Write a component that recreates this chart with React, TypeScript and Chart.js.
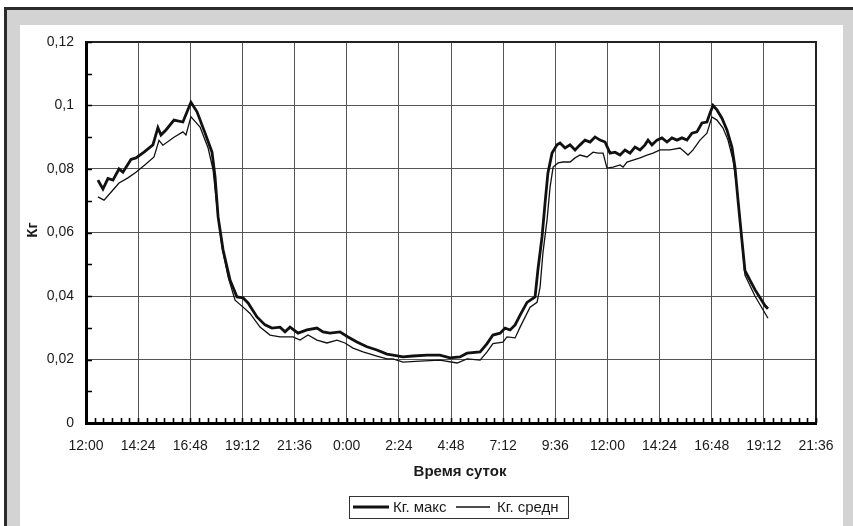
import { useEffect, useRef } from 'react';
import { Chart, registerables } from 'chart.js';

Chart.register(...registerables);

// ---- data (time in hours counted from 12:00 of day 1) ----
const startClockMin = 12 * 60;
const axisMaxMin = 2016; // 33.6 h -> 21:36 next day
const majorStepMin = 144; // 2:24
const minorStepMin = 24;
const yMax = 0.12;
const yStep = 0.02;
const yMinorStep = 0.01;

const seriesLabels = ['Кг. макс', 'Кг. средн'];
const xTitle = 'Время суток';
const yTitle = 'Кг';

const maxHours = [
  0.55, 0.78, 1.01, 1.24, 1.52, 1.7, 2.07, 2.3, 2.67, 3.08, 3.31, 3.45, 3.68, 4.05, 4.46, 4.83,
  5.11, 5.48, 5.8, 5.94, 6.08, 6.31, 6.63, 6.95, 7.23, 7.46, 7.87, 8.24, 8.56, 8.93, 9.16, 9.39,
  9.76, 10.17, 10.63, 10.91, 11.23, 11.69, 12.06, 12.47, 12.93, 13.39, 13.85, 14.13, 14.59, 15.05,
  15.7, 16.29, 16.75, 17.21, 17.54, 18.14, 18.46, 18.73, 19.06, 19.29, 19.52, 19.75, 19.98, 20.3,
  20.67, 20.8, 20.99, 21.13, 21.26, 21.45, 21.68, 21.82, 22.05, 22.28, 22.51, 22.74, 22.97, 23.2,
  23.43, 23.66, 23.89, 24.12, 24.35, 24.58, 24.81, 25.04, 25.27, 25.5, 25.73, 25.87, 26.05, 26.28,
  26.51, 26.74, 26.97, 27.2, 27.43, 27.66, 27.89, 28.12, 28.35, 28.58, 28.72, 28.86, 29.04, 29.27,
  29.5, 29.73, 29.87, 30.01, 30.19, 30.33, 30.79, 31.25, 31.39,
];
const maxValues = [
  0.0765, 0.0737, 0.077, 0.0765, 0.08, 0.079, 0.083, 0.0835, 0.0853, 0.0876, 0.093, 0.0907, 0.0923, 0.0954, 0.0948, 0.101,
  0.098, 0.0913, 0.0853, 0.0775, 0.0649, 0.0545, 0.045, 0.0397, 0.0394, 0.0378, 0.0334, 0.0309, 0.0299, 0.0302, 0.0287, 0.0302,
  0.0283, 0.0293, 0.0299, 0.0287, 0.0283, 0.0287, 0.0271, 0.0255, 0.024, 0.023, 0.0217, 0.0214, 0.0208, 0.0211,
  0.0214, 0.0214, 0.0205, 0.0208, 0.022, 0.0224, 0.025, 0.0277, 0.0283, 0.0299, 0.0293, 0.0309, 0.034, 0.038,
  0.0397, 0.0482, 0.0586, 0.0693, 0.0787, 0.085, 0.0876, 0.0882, 0.0866, 0.0876, 0.086, 0.0876, 0.0891, 0.0885,
  0.0901, 0.0891, 0.0885, 0.085, 0.0853, 0.0844, 0.086, 0.085, 0.0869, 0.086, 0.0876, 0.0891, 0.0876, 0.0891,
  0.0898, 0.0885, 0.0898, 0.0891, 0.0898, 0.0891, 0.0913, 0.0917, 0.0945, 0.0948, 0.0976, 0.1, 0.0986, 0.096,
  0.0923, 0.0869, 0.0806, 0.0702, 0.0576, 0.048, 0.042, 0.037, 0.036,
];

const avgHours = [
  0.55, 0.83, 1.24, 1.52, 1.93, 2.3, 2.76, 3.13, 3.36, 3.54, 4.05, 4.46, 4.6, 4.83, 5.16, 5.25,
  5.62, 5.85, 6.03, 6.26, 6.54, 6.86, 7.23, 7.55, 8.01, 8.47, 8.93, 9.53, 9.85, 10.22, 10.63, 11.09,
  11.55, 11.92, 12.29, 12.75, 13.39, 13.85, 14.13, 14.59, 15.37, 16.29, 17.08, 17.54, 18.14, 18.46,
  18.73, 19.19, 19.38, 19.75, 19.98, 20.44, 20.76, 20.9, 21.03, 21.22, 21.36, 21.5, 21.73, 21.96,
  22.28, 22.51, 22.74, 23.06, 23.34, 23.57, 23.8, 23.98, 24.26, 24.58, 24.72, 24.9, 25.18, 25.5,
  25.82, 26.1, 26.42, 26.88, 27.34, 27.57, 27.71, 27.94, 28.26, 28.58, 28.81, 29.04, 29.32, 29.55,
  29.78, 29.96, 30.1, 30.33, 30.79, 31.39,
];
const avgValues = [
  0.0712, 0.0702, 0.0734, 0.0756, 0.0772, 0.079, 0.0816, 0.0838, 0.089, 0.0875, 0.09, 0.0917, 0.0907, 0.0964, 0.0939, 0.0932,
  0.0866, 0.0797, 0.068, 0.0554, 0.046, 0.0387, 0.0365, 0.0345, 0.0302, 0.0277, 0.0271, 0.0271, 0.0261, 0.0277, 0.0261, 0.0252,
  0.0261, 0.0252, 0.0236, 0.0224, 0.0211, 0.0202, 0.0202, 0.0192, 0.0195, 0.0198, 0.0189, 0.0202, 0.0198, 0.0224,
  0.025, 0.0255, 0.0271, 0.0268, 0.0302, 0.0365, 0.038, 0.0428, 0.0535, 0.0639, 0.0743, 0.0806, 0.0819, 0.0822,
  0.0822, 0.0835, 0.0844, 0.0838, 0.0853, 0.085, 0.085, 0.0803, 0.0806, 0.0813, 0.0806, 0.0822, 0.0828, 0.0835,
  0.0844, 0.085, 0.086, 0.086, 0.0866, 0.0853, 0.0844, 0.086, 0.0891, 0.0913, 0.0964, 0.0954, 0.0929, 0.0891,
  0.0828, 0.0743, 0.0639, 0.0466, 0.04, 0.033,
];

const FONT = '"Liberation Sans", Arial, Helvetica, sans-serif';
const INK = '#1a1a1a';

function toPoints(hours: number[], values: number[]) {
  return hours.map((h, i) => ({ x: h * 60, y: values[i] }));
}

function clockLabel(min: number) {
  const total = Math.round(startClockMin + min);
  const hh = Math.floor(total / 60) % 24;
  const mm = total % 60;
  return `${hh}:${String(mm).padStart(2, '0')}`;
}

const framePlugin = {
  id: 'frame',
  beforeDraw(chart: any) {
    const c = chart.ctx;
    const W = chart.width;
    const H = chart.height;
    c.save();
    c.fillStyle = '#ffffff';
    c.fillRect(0, 0, W, H);
    c.fillStyle = '#d3d3d3';
    c.fillRect(5, 8, W - 5, H - 8);
    c.fillStyle = '#2b2b2b';
    c.fillRect(4, 7, W - 4, 3);
    c.fillRect(4, 7, 3, H - 7);
    c.fillStyle = '#ffffff';
    c.fillRect(20, 25, 823, H - 25);
    c.restore();
  },
};

const overlayPlugin = {
  id: 'overlay',
  afterDraw(chart: any) {
    const c = chart.ctx;
    const { left, right, top, bottom } = chart.chartArea;
    const xs = chart.scales.x;
    const ys = chart.scales.y;
    c.save();
    // top / right frame
    c.strokeStyle = '#222';
    c.lineWidth = 2;
    c.beginPath();
    c.moveTo(left, top);
    c.lineTo(right, top);
    c.lineTo(right, bottom);
    c.stroke();
    // minor ticks
    c.strokeStyle = '#000';
    c.lineWidth = 1.6;
    c.beginPath();
    for (let m = 0; m <= axisMaxMin; m += minorStepMin) {
      const px = Math.round(xs.getPixelForValue(m)) + 0.5;
      c.moveTo(px, bottom);
      c.lineTo(px, bottom - 5);
    }
    for (let k = 0; k <= Math.round(yMax / yMinorStep); k++) {
      const py = Math.round(ys.getPixelForValue(k * yMinorStep)) + 0.5;
      c.moveTo(left, py);
      c.lineTo(left + 6, py);
    }
    c.stroke();
    // titles
    c.fillStyle = INK;
    c.font = `bold 15px ${FONT}`;
    c.textAlign = 'center';
    c.textBaseline = 'middle';
    c.fillText(xTitle, 460, 472);
    c.save();
    c.translate(33, 230);
    c.rotate(-Math.PI / 2);
    c.fillText(yTitle, 0, 0);
    c.restore();
    // legend
    const ly = 507;
    c.strokeStyle = '#333';
    c.lineWidth = 1;
    c.strokeRect(349.5, 496.5, 219, 22);
    c.font = `15px ${FONT}`;
    c.textAlign = 'left';
    c.strokeStyle = '#111';
    c.lineWidth = 2.8;
    c.beginPath();
    c.moveTo(353, ly);
    c.lineTo(389, ly);
    c.stroke();
    c.fillText(seriesLabels[0], 393, ly + 0.5);
    c.lineWidth = 1.3;
    c.beginPath();
    c.moveTo(456, ly);
    c.lineTo(490, ly);
    c.stroke();
    c.fillText(seriesLabels[1], 497, ly + 0.5);
    c.restore();
  },
};

export default function App() {
  const ref = useRef<HTMLCanvasElement | null>(null);

  useEffect(() => {
    if (!ref.current) return;
    const chart = new Chart(ref.current, {
      type: 'line',
      data: {
        datasets: [
          {
            label: seriesLabels[0],
            data: toPoints(maxHours, maxValues),
            borderColor: '#111',
            borderWidth: 2.8,
            pointRadius: 0,
            tension: 0,
            fill: false,
          },
          {
            label: seriesLabels[1],
            data: toPoints(avgHours, avgValues),
            borderColor: '#111',
            borderWidth: 1.3,
            pointRadius: 0,
            tension: 0,
            fill: false,
          },
        ],
      },
      options: {
        animation: false,
        responsive: false,
        devicePixelRatio: 1,
        layout: { padding: { top: 42, right: 37, left: 0, bottom: 0 } },
        plugins: {
          legend: { display: false },
          tooltip: { enabled: false },
          title: { display: false },
        },
        scales: {
          x: {
            type: 'linear',
            min: 0,
            max: axisMaxMin,
            afterFit(scale: any) {
              scale.height = 103;
            },
            ticks: {
              stepSize: majorStepMin,
              autoSkip: false,
              maxRotation: 0,
              padding: 15,
              color: INK,
              font: { family: FONT, size: 14 },
              callback: (v: any) => clockLabel(Number(v)),
            },
            grid: { color: '#555', lineWidth: 1, drawTicks: false },
            border: { color: '#000', width: 3 },
          },
          y: {
            type: 'linear',
            min: 0,
            max: yMax,
            afterFit(scale: any) {
              scale.width = 86;
            },
            ticks: {
              stepSize: yStep,
              padding: 12,
              color: INK,
              font: { family: FONT, size: 14 },
              callback: (v: any) => String(Number(Number(v).toFixed(2))).replace('.', ','),
            },
            grid: { color: '#555', lineWidth: 1, drawTicks: false },
            border: { color: '#000', width: 3 },
          },
        },
      },
      plugins: [framePlugin, overlayPlugin],
    });
    return () => chart.destroy();
  }, []);

  return (
    <div style={{ position: 'fixed', left: 0, top: 0, width: 853, height: 526 }}>
      <canvas ref={ref} width={853} height={526} />
    </div>
  );
}
